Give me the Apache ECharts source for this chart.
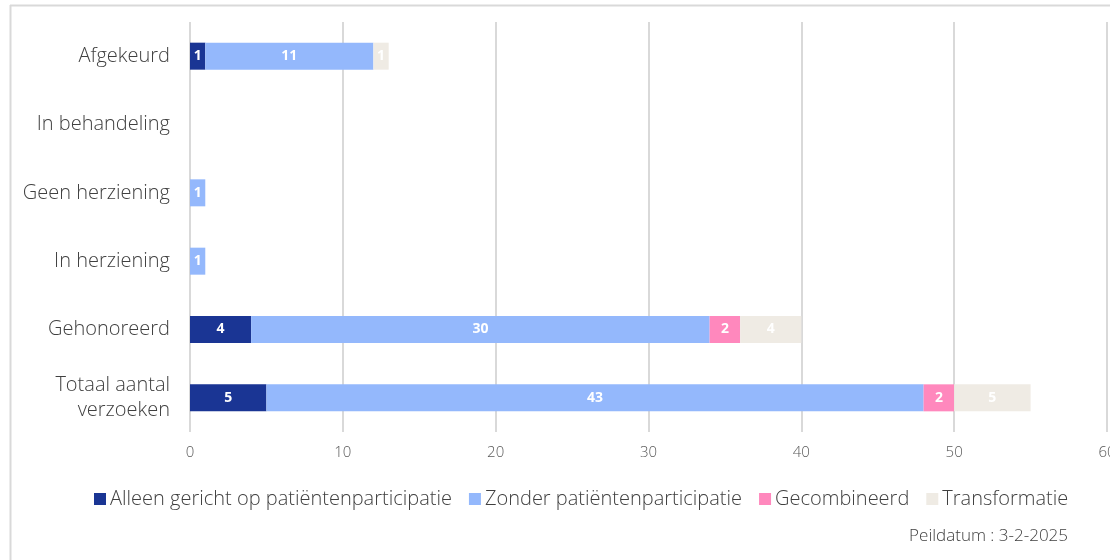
<!DOCTYPE html>
<html>
<head>
<meta charset="utf-8">
<script src="https://cdn.jsdelivr.net/npm/echarts@6/dist/echarts.min.js"></script>
<style>html,body{margin:0;padding:0;background:#fff;}#c{width:1110px;height:560px;}</style>
</head>
<body>
<div id="c"></div>
<script>
const categories = ['Afgekeurd', 'In behandeling', 'Geen herziening', 'In herziening', 'Gehonoreerd', 'Totaal aantal\nverzoeken'];
const seriesNames = ['Alleen gericht op patiëntenparticipatie', 'Zonder patiëntenparticipatie', 'Gecombineerd', 'Transformatie'];
const alleenGericht = [1, 0, 0, 0, 4, 5];
const zonderParticipatie = [11, 0, 1, 1, 30, 43];
const gecombineerd = [0, 0, 0, 0, 2, 2];
const transformatie = [1, 0, 0, 0, 4, 5];
const xTicks = [0, 10, 20, 30, 40, 50, 60];
const colors = ['#1a3594', '#94b8fc', '#ff88bd', '#efebe4'];

const values = [alleenGericht, zonderParticipatie, gecombineerd, transformatie];
const FONT = 'Open Sans';
const chart = echarts.init(document.getElementById('c'), null, {renderer: 'canvas'});
chart.setOption({
  animation: false,
  backgroundColor: '#fff',
  color: colors,
  graphic: [
    {type: 'line', shape: {x1: 10, y1: 5.5, x2: 1110, y2: 5.5}, style: {stroke: '#d9d9d9', lineWidth: 2}},
    {type: 'line', shape: {x1: 10.5, y1: 5, x2: 10.5, y2: 560}, style: {stroke: '#d9d9d9', lineWidth: 2}},
    {type: 'text', right: 42, top: 528, style: {text: 'Peildatum : 3-2-2025', fill: '#404040', font: '300 17px "Open Sans"'}}
  ],
  grid: {left: 190, right: 3, top: 22, bottom: 128, containLabel: false, outerBoundsMode: 'none'},
  legend: {
    left: 89, top: 484,
    itemWidth: 12, itemHeight: 12, itemGap: 17,
    icon: 'rect',
    textStyle: {fontFamily: FONT, fontWeight: 300, fontSize: 20, color: '#404040', padding: [0, 0, 0, -1]},
    data: seriesNames
  },
  xAxis: {
    type: 'value', min: xTicks[0], max: xTicks[xTicks.length - 1], interval: 10,
    axisLine: {show: false}, axisTick: {show: false},
    axisLabel: {color: '#595959', fontFamily: FONT, fontWeight: 300, fontSize: 15, margin: 13},
    splitLine: {lineStyle: {color: '#d9d9d9', width: 2}}
  },
  yAxis: {
    type: 'category', data: categories, inverse: true,
    axisLine: {show: false}, axisTick: {show: false},
    axisLabel: {color: '#404040', fontFamily: FONT, fontWeight: 300, fontSize: 20, margin: 20, lineHeight: 25, align: 'right'}
  },
  series: seriesNames.map((name, i) => ({
    name: name, type: 'bar', stack: 'total', barWidth: 27,
    data: values[i],
    itemStyle: {color: colors[i]},
    label: {
      show: true, position: 'inside', color: '#fff', fontFamily: FONT, fontWeight: 'bold', fontSize: 14,
      formatter: p => p.value === 0 ? '' : String(p.value)
    }
  }))
});
</script>
</body>
</html>
